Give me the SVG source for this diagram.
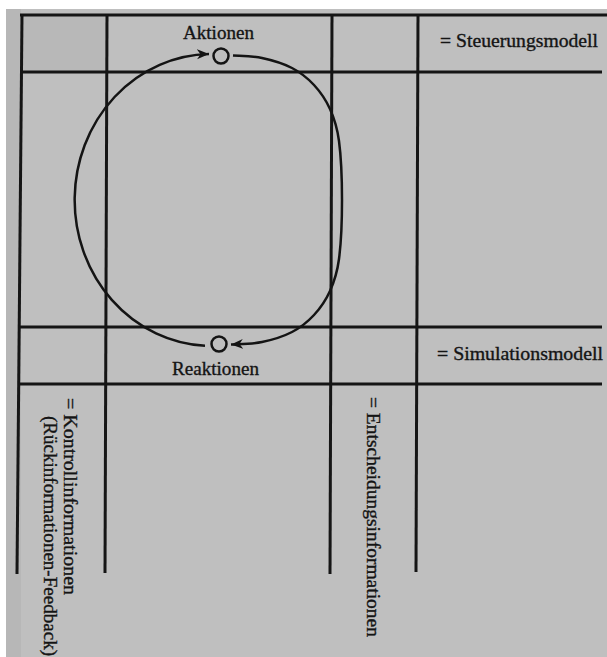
<svg xmlns="http://www.w3.org/2000/svg" width="607" height="657" viewBox="0 0 607 657">
<style>
.grid{stroke:#151515;stroke-width:3;fill:none;stroke-linecap:butt}
.lbl{font-family:"Liberation Serif","DejaVu Serif",serif;font-size:18.5px;fill:#141414;stroke:#141414;stroke-width:0.35}
.node{fill:none;stroke:#141414;stroke-width:2.5}
.conn{fill:none;stroke:#141414;stroke-width:2.5}
</style>
<defs>
<marker id="arr" markerUnits="userSpaceOnUse" markerWidth="14" markerHeight="12" refX="12" refY="5" orient="auto">
<path d="M0,0 L12,5 L0,10 L3.5,5 z" fill="#141414"/>
</marker>
</defs>
<rect x="0" y="0" width="607" height="657" fill="#ffffff"/>
<rect x="6" y="9" width="601" height="648" fill="#bfbfbf"/>
<rect x="6" y="9" width="15" height="648" fill="#b7b7b7"/>
<rect x="22" y="16" width="84" height="56" fill="#b8b8b8"/>
<g id="grid">
<line class="grid" x1="20" y1="15" x2="607" y2="15"/>
<line class="grid" x1="20" y1="72" x2="602" y2="72"/>
<line class="grid" x1="19" y1="327" x2="602" y2="327"/>
<line class="grid" x1="19" y1="384" x2="602" y2="384"/>
<line class="grid" x1="22" y1="14" x2="17" y2="574"/>
<line class="grid" x1="107" y1="14" x2="105" y2="573"/>
<line class="grid" x1="332" y1="14" x2="330" y2="574"/>
<line class="grid" x1="418" y1="14" x2="416" y2="572"/>
</g>
<g id="aktionen">
<circle class="node" cx="221" cy="56" r="7.5"/>
<text class="lbl" x="183" y="39" textLength="71" lengthAdjust="spacingAndGlyphs">Aktionen</text>
</g>
<g id="reaktionen">
<circle class="node" cx="219" cy="344" r="7.5"/>
<text class="lbl" x="172" y="375" textLength="87" lengthAdjust="spacingAndGlyphs">Reaktionen</text>
</g>
<g id="steuerungsmodell">
<text class="lbl" x="440" y="47" textLength="158" lengthAdjust="spacingAndGlyphs">= Steuerungsmodell</text>
</g>
<g id="simulationsmodell">
<text class="lbl" x="437" y="360" textLength="166" lengthAdjust="spacingAndGlyphs">= Simulationsmodell</text>
</g>
<g id="kontrollinformationen">
<text class="lbl" transform="translate(64,398) rotate(90)" textLength="197" lengthAdjust="spacingAndGlyphs">= Kontrollinformationen</text>
<text class="lbl" transform="translate(44,416) rotate(90)" textLength="240" lengthAdjust="spacingAndGlyphs">(Rückinformationen-Feedback)</text>
</g>
<g id="entscheidungsinformationen">
<text class="lbl" transform="translate(367,397) rotate(90)" textLength="240" lengthAdjust="spacingAndGlyphs">= Entscheidungsinformationen</text>
</g>
<g id="connectors">
<path class="conn" d="M205,345.8 A137,146 0 0 1 209,54" marker-end="url(#arr)"/>
<path class="conn" d="M233,55.5 C242.7,56 252.2,55.9 262,58 C271.8,60.1 283.3,63.5 292,68 C300.7,72.5 307.7,78.2 314,85 C320.3,91.8 325.8,99.7 330,109 C334.2,118.3 337,125.8 339,141 C341,156.2 342,180.3 342,200 C342,219.7 341,243.8 339,259 C337,274.2 334.2,281.7 330,291 C325.8,300.3 320.3,308.2 314,315 C307.7,321.8 300.7,327.5 292,332 C283.3,336.5 272.2,339.9 262,342 C251.8,344.1 241.3,344 231,344.5" marker-end="url(#arr)"/>
</g>
</svg>
